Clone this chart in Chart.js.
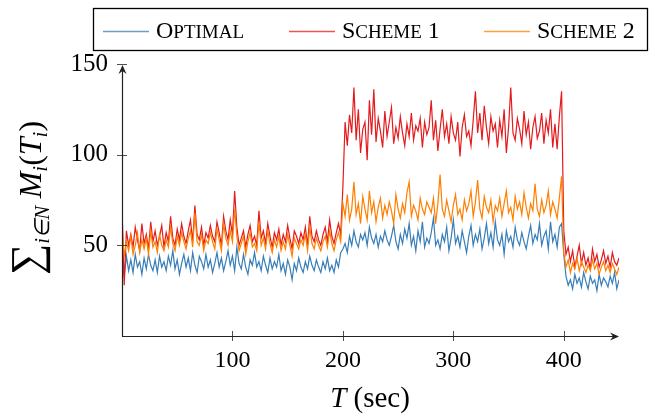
<!DOCTYPE html>
<html>
<head>
<meta charset="utf-8">
<script src="https://cdn.jsdelivr.net/npm/chart.js"></script>
<style>
  html, body { margin: 0; padding: 0; background: #fff; }
  #wrap { width: 657px; height: 416px; }
</style>
</head>
<body>
<div id="wrap"><canvas id="chart"></canvas></div>
<script>
// sample every 2 sec, 0..450
const sampleStep = 2;
const xTicks = [100, 200, 300, 400];
const yTicks = [50, 100, 150];
const seriesNames = ['Optimal', 'Scheme 1', 'Scheme 2'];
const seriesColors = ['#377eb8', '#e41a1c', '#ff7f00'];

const optimal = [
  40, 33, 44, 36, 42, 35, 45, 38, 41, 34,
  43, 37, 45, 39, 36, 42, 35, 44, 38, 41,
  36, 44, 39, 47, 37, 42, 34, 40, 45, 38,
  43, 36, 46, 39, 35, 44, 41, 37, 45, 38,
  42, 35, 40, 46, 38, 43, 36, 41, 47, 39,
  44, 36, 49, 40, 37, 45, 38, 34, 42, 39,
  46, 38, 41, 36, 44, 39, 35, 43, 37, 41,
  38, 45, 36, 40, 34, 42, 38, 31, 40, 36,
  43, 38, 35, 41, 37, 44, 39, 36, 42, 38,
  35, 41, 37, 43, 36, 39, 35, 42, 38, 46,
  48, 51, 46, 55, 50, 58, 52, 49, 56, 53,
  57, 50, 60, 54, 51, 56, 49, 55, 52, 58,
  53, 50, 55, 61, 52, 48, 56, 51, 59, 54,
  62, 50, 55, 47, 58, 52, 63, 49, 54, 51,
  57, 65, 50, 53, 48, 56, 52, 60, 47, 54,
  64, 51, 55, 49, 58, 52, 46, 55, 61, 50,
  56, 52, 59, 48, 54, 62, 51, 57, 49, 63,
  53, 50, 56, 45, 58, 52, 55, 49, 60, 53,
  50, 57, 52, 48, 55, 61, 51, 56, 53, 62,
  50, 55, 58, 48, 63, 52, 56, 49, 60, 62,
  45, 33, 28, 31, 26, 34, 29, 32, 27, 35,
  30, 26, 33, 29, 31, 25, 34, 28, 32, 30,
  27, 33, 29, 35, 26, 31
];

const scheme1 = [
  71, 28, 58, 50, 56, 49, 60, 53, 47, 62,
  51, 56, 48, 63, 52, 58, 50, 55, 61, 49,
  57, 52, 66, 54, 50, 59, 53, 62, 55, 51,
  58, 64, 52, 72, 56, 53, 60, 50, 57, 54,
  61, 55, 52, 63, 57, 50, 66, 58, 53, 64,
  56, 80, 60, 50, 54, 58, 49, 56, 61, 52,
  55, 50, 69, 54, 58, 51, 62, 55, 49, 57,
  53, 59, 50, 56, 52, 61, 54, 48, 58, 55,
  51, 57, 53, 60, 50, 66, 55, 52, 58, 53,
  50, 56, 60, 52, 64, 55, 51, 57, 62, 56,
  82, 118, 105, 122, 112, 137, 108, 125, 101, 114,
  118, 97, 130, 111, 136, 107, 120, 113, 104, 124,
  110, 118, 126, 106, 115, 109, 121, 112, 105, 117,
  110, 123, 108, 116, 113, 120, 104, 118, 111, 115,
  130, 108, 119, 102, 114, 125, 110, 117, 106, 121,
  112, 108, 118, 99, 115, 122, 110, 113, 105, 119,
  135, 112, 123, 108, 127, 115, 106, 121, 113, 117,
  104, 119, 110, 125, 101, 115, 137, 112, 108, 120,
  114, 106, 124, 111, 118, 103, 115, 121, 109, 113,
  123, 106, 119, 112, 125, 104, 117, 103, 121, 135,
  58, 45, 49, 41, 47, 38, 44, 50, 40, 46,
  39, 43, 37, 48, 41, 45, 38, 42, 47, 40,
  44, 38, 46, 41, 39, 43
];

const scheme2 = [
  60, 44, 52, 47, 55, 45, 50, 57, 46, 53,
  48, 54, 45, 58, 49, 52, 46, 56, 50, 47,
  53, 49, 60, 51, 47, 55, 50, 57, 52, 48,
  54, 58, 49, 68, 52, 50, 56, 47, 53, 51,
  57, 52, 48, 59, 53, 47, 62, 54, 50, 58,
  52, 70, 55, 47, 51, 55, 45, 52, 57, 49,
  51, 47, 63, 50, 54, 48, 58, 51, 46, 53,
  49, 55, 47, 52, 48, 56, 50, 44, 54, 51,
  48, 53, 50, 56, 47, 60, 51, 48, 54, 50,
  47, 52, 55, 49, 58, 51, 47, 53, 57, 52,
  73, 66, 78, 64, 70, 85, 67, 73, 62, 77,
  70, 64, 80, 68, 74, 63, 71, 76, 65, 72,
  67, 74, 69, 62, 78, 70, 65, 73, 68, 79,
  85, 66, 72, 69, 64, 76, 70, 67, 74, 71,
  68, 76, 62, 73, 89, 70, 66, 75, 69, 63,
  72, 78, 67, 70, 64, 75, 69, 73, 80, 66,
  74, 86, 70, 65, 77, 71, 68, 75, 63, 72,
  69, 76, 66, 73, 80, 68, 71, 64, 77, 70,
  74, 67, 79, 71, 65, 73, 69, 84, 70, 66,
  75, 68, 72, 80, 67, 74, 70, 65, 76, 88,
  46, 38, 42, 35, 40, 37, 43, 36, 41, 38,
  35, 39, 36, 42, 37, 40, 34, 38, 41, 36,
  39, 35, 40, 37, 34, 38
];

const times = optimal.map((_, i) => i * sampleStep);
const toPoints = arr => arr.map((v, i) => ({ x: times[i], y: v }));

const serif = '"Liberation Serif", "Times New Roman", serif';

// axis lines with ticks crossing and arrow heads
const axesPlugin = {
  id: 'axesPlugin',
  afterDatasetsDraw(chart) {
    const { ctx, chartArea: a, scales } = chart;
    ctx.save();
    ctx.strokeStyle = '#222';
    ctx.fillStyle = '#222';
    ctx.lineWidth = 1.2;
    ctx.beginPath();
    ctx.moveTo(a.left, a.bottom + 0.5);
    ctx.lineTo(a.right - 4, a.bottom + 0.5);
    ctx.moveTo(a.left + 0.5, a.bottom);
    ctx.lineTo(a.left + 0.5, a.top + 4);
    ctx.stroke();
    ctx.lineWidth = 0.8;
    ctx.beginPath();
    xTicks.forEach(t => {
      const px = Math.round(scales.x.getPixelForValue(t)) + 0.5;
      ctx.moveTo(px, a.bottom - 5);
      ctx.lineTo(px, a.bottom + 5);
    });
    yTicks.forEach(t => {
      const py = Math.round(scales.y.getPixelForValue(t)) + 0.5;
      ctx.moveTo(a.left - 5, py);
      ctx.lineTo(a.left + 5, py);
    });
    ctx.stroke();
    // arrow heads
    let tx = a.right, ty = a.bottom + 0.5;
    ctx.beginPath();
    ctx.moveTo(tx, ty);
    ctx.lineTo(tx - 9, ty - 4);
    ctx.lineTo(tx - 6, ty);
    ctx.lineTo(tx - 9, ty + 4);
    ctx.closePath();
    ctx.fill();
    tx = a.left + 0.5; ty = a.top + 1;
    ctx.beginPath();
    ctx.moveTo(tx, ty);
    ctx.lineTo(tx - 4, ty + 9);
    ctx.lineTo(tx, ty + 6);
    ctx.lineTo(tx + 4, ty + 9);
    ctx.closePath();
    ctx.fill();
    ctx.restore();
  }
};

function drawSmallCaps(ctx, text, x, y, big, small) {
  for (const ch of text) {
    const isLower = ch !== ch.toUpperCase();
    ctx.font = (isLower ? small : big) + 'px ' + serif;
    const c = ch.toUpperCase();
    ctx.fillText(c, x, y);
    x += ctx.measureText(c).width;
  }
  return x;
}

// boxed legend with small caps text
const legendPlugin = {
  id: 'legendPlugin',
  afterDraw(chart) {
    const ctx = chart.ctx;
    ctx.save();
    ctx.strokeStyle = '#000';
    ctx.lineWidth = 1.3;
    ctx.strokeRect(93.5, 8.5, 554, 42);
    ctx.fillStyle = '#000';
    ctx.textBaseline = 'alphabetic';
    const starts = [103, 289, 484];
    seriesNames.forEach((name, i) => {
      const x = starts[i];
      ctx.strokeStyle = seriesColors[i];
      ctx.globalAlpha = 0.75;
      ctx.lineWidth = 1.6;
      ctx.beginPath();
      ctx.moveTo(x, 31.5);
      ctx.lineTo(x + 46, 31.5);
      ctx.stroke();
      ctx.globalAlpha = 1;
      drawSmallCaps(ctx, name, x + 53, 38, 24, 19);
    });
    ctx.restore();
  }
};

// axis titles with math formatting
const titlesPlugin = {
  id: 'titlesPlugin',
  afterDraw(chart) {
    const ctx = chart.ctx;
    ctx.save();
    ctx.fillStyle = '#000';
    ctx.textBaseline = 'alphabetic';
    const p1 = [['italic 29px ' + serif, 'T', 0], ['29px ' + serif, ' (sec)', 0]];
    const p2 = [
      ['44px ' + serif, '\u2211', 0],
      ['italic 21px ' + serif, 'i\u2208N', 8],
      ['30px ' + serif, ' ', 0],
      ['italic 32px ' + serif, 'M', 0],
      ['italic 21px ' + serif, 'i', 6],
      ['32px ' + serif, '(', 0],
      ['italic 32px ' + serif, 'T', 0],
      ['italic 21px ' + serif, 'i', 6],
      ['32px ' + serif, ')', 0]
    ];
    const width = parts => parts.reduce((w, p) => { ctx.font = p[0]; return w + ctx.measureText(p[1]).width; }, 0);
    const drawParts = (parts, x) => {
      parts.forEach(p => { ctx.font = p[0]; ctx.fillText(p[1], x, p[2]); x += ctx.measureText(p[1]).width; });
    };
    ctx.save();
    ctx.translate(370, 407);
    drawParts(p1, -width(p1) / 2);
    ctx.restore();
    ctx.save();
    ctx.translate(41, 198);
    ctx.rotate(-Math.PI / 2);
    drawParts(p2, -width(p2) / 2);
    ctx.restore();
    ctx.restore();
  }
};

new Chart(document.getElementById('chart'), {
  type: 'line',
  data: {
    datasets: [
      { label: seriesNames[0], data: toPoints(optimal), borderColor: seriesColors[0], order: 2 },
      { label: seriesNames[1], data: toPoints(scheme1), borderColor: seriesColors[1], order: 1 },
      { label: seriesNames[2], data: toPoints(scheme2), borderColor: seriesColors[2], order: 0 }
    ]
  },
  options: {
    responsive: true,
    maintainAspectRatio: false,
    animation: false,
    events: [],
    layout: {
      padding: { top: 64, right: 38, left: 0, bottom: 0 }
    },
    elements: {
      point: { radius: 0 },
      line: { borderWidth: 1.2, tension: 0 }
    },
    plugins: {
      legend: { display: false },
      tooltip: { enabled: false }
    },
    scales: {
      x: {
        type: 'linear',
        min: 0,
        max: 450,
        afterBuildTicks: s => { s.ticks = xTicks.map(v => ({ value: v })); },
        afterFit: s => { s.height = 80; },
        grid: { display: false },
        border: { display: false },
        ticks: {
          color: '#000',
          padding: 2,
          font: { family: serif, size: 24 }
        }
      },
      y: {
        min: 0,
        max: 150,
        afterBuildTicks: s => { s.ticks = yTicks.map(v => ({ value: v })); },
        afterFit: s => { s.width = 122; },
        grid: { display: false },
        border: { display: false },
        ticks: {
          color: '#000',
          padding: 6,
          font: { family: serif, size: 25 }
        }
      }
    }
  },
  plugins: [axesPlugin, legendPlugin, titlesPlugin]
});
</script>
</body>
</html>
